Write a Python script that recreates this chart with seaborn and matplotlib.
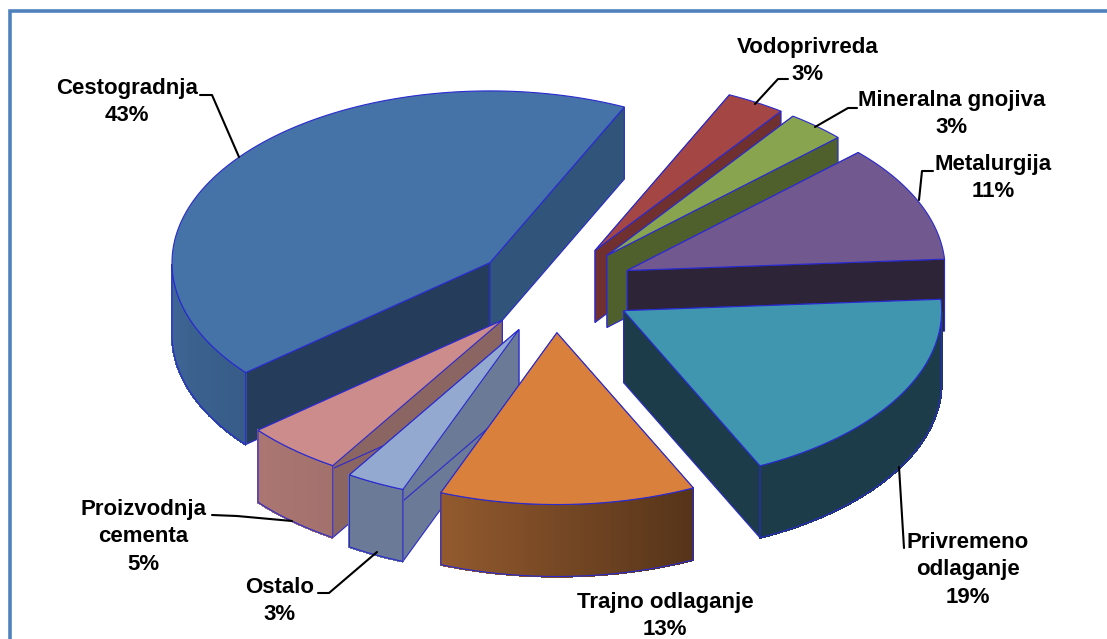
import numpy as np
import matplotlib
matplotlib.use('Agg')
import matplotlib.pyplot as plt
import seaborn as sns

# clockwise from the top right
categories = ['Vodoprivreda', 'Mineralna gnojiva', 'Metalurgija', 'Privremeno\nodlaganje',
              'Trajno odlaganje', 'Ostalo', 'Proizvodnja\ncementa', 'Cestogradnja']
shares = [3, 3, 11, 19, 13, 3, 5, 43]

top_colors = ['#A44644', '#89A44E', '#71588F', '#4096AE', '#D9803C', '#93A9CF', '#CC8C8B', '#4572A7']
# wall gradient left -> right, and the two cut faces (start side, end side)
wall_left = ['#70302F', '#50602D', '#2D2438', '#1B3C48', '#935A2E', '#6B7A96', '#AB7671', '#3F6796']
wall_right = ['#70302F', '#50602D', '#2D2438', '#1B3C48', '#553319', '#6B7A96', '#A3716D', '#375C88']
face_start = ['#70302F', '#50602D', '#2D2438', '#1B3C48', '#553319', '#6B7A96', '#8A6561', '#253D5A']
face_end = ['#70302F', '#50602D', '#2D2438', '#1B3C48', '#935A2E', '#6B7A96', '#8A6561', '#31547A']
explode = [87, 85, 81, 83, 83, 80, 77, 77]
# small corrections to where each slice ended up
shift_x = [0, 0, 2, 1, 3, 4, 2, 0]
shift_y = [3, 2, 0, 0, 0, 3, 1, 0]

label_xy = [(808, 61), (952, 114), (993, 178), (968, 570), (665, 616), (280, 601), (143, 537), (127, 102)]
leaders = [
    [(755, 104), (778, 79), (788, 79)],
    [(815, 127), (848, 108), (857, 108)],
    [(919, 200), (922, 171), (933, 171)],
    [(899, 467), (904, 548)],
    [],
    [(318, 593), (329, 593), (377, 552)],
    [(212, 515), (237, 516), (292, 521)],
    [(200, 95), (212, 95), (239, 157)],
]

CX, CY = 551, 288
RADIUS = 318
SQUASH = 0.54
DEPTH = 72
START_ANGLE = 65
EDGE = '#2A2AD0'

sns.set_theme(style='white')
plt.rcParams['font.family'] = ['Liberation Sans', 'DejaVu Sans']

fig, ax = plt.subplots(figsize=(11.07, 6.39), dpi=100)
ax.set_position([0, 0, 1, 1])
ax.set_xlim(0, 1107)
ax.set_ylim(639, 0)
ax.axis('off')

ax.plot([10, 10, 1120], [650, 11, 11], color='#4F81BD', lw=2.6, solid_joinstyle='miter', zorder=1)


def rim(ax0, ay0, ang):
    a = np.radians(ang)
    return ax0 + RADIUS * np.cos(a), ay0 - RADIUS * SQUASH * np.sin(a)


def draw_slice(i, a_start, a_end, z):
    # a_start > a_end, going clockwise
    mid = np.radians((a_start + a_end) / 2)
    x0 = CX + explode[i] * np.cos(mid) + shift_x[i]
    y0 = CY - explode[i] * SQUASH * np.sin(mid) + shift_y[i]

    # the two cut faces
    for ang, col in [(a_start, face_start[i]), (a_end, face_end[i])]:
        x1, y1 = rim(x0, y0, ang)
        ax.fill([x0, x1, x1, x0], [y0, y1, y1 + DEPTH, y0 + DEPTH],
                facecolor=col, edgecolor=EDGE, lw=0.8, zorder=z)

    # outer wall, only the part turned to the viewer
    angs = np.linspace(a_start, a_end, 80)
    angs = angs[np.sin(np.radians(angs)) < 0]
    if len(angs) > 1:
        xs, ys = rim(x0, y0, angs)
        left = np.array(matplotlib.colors.to_rgb(wall_left[i]))
        right = np.array(matplotlib.colors.to_rgb(wall_right[i]))
        for k in range(len(angs) - 1):
            t = (k + 0.5) / (len(angs) - 1)
            if xs[0] < xs[-1]:
                col = left + (right - left) * t
            else:
                col = right + (left - right) * t
            ax.fill([xs[k], xs[k + 1], xs[k + 1], xs[k]],
                    [ys[k], ys[k + 1], ys[k + 1] + DEPTH, ys[k] + DEPTH],
                    facecolor=col, edgecolor=col, lw=1.0, antialiased=False, zorder=z + 0.1)
        ax.plot(np.r_[xs, xs[::-1], xs[0]],
                np.r_[ys, ys[::-1] + DEPTH, ys[0]],
                color=EDGE, lw=0.8, zorder=z + 0.2)

    # top
    angs = np.linspace(a_start, a_end, 120)
    xs, ys = rim(x0, y0, angs)
    ax.fill(np.r_[x0, xs], np.r_[y0, ys], facecolor=top_colors[i], edgecolor=EDGE, lw=0.8,
            joinstyle='miter', zorder=z + 0.3)


# slice limits from the shares, back slices first
ends = START_ANGLE - np.cumsum(shares) * 3.6
starts = np.r_[START_ANGLE, ends[:-1]]
mids = (starts + ends) / 2
order = np.argsort(-np.sin(np.radians(mids)))
for z, i in enumerate(order):
    draw_slice(i, starts[i], ends[i], 2 + z)

for name, share, (tx, ty), path in zip(categories, shares, label_xy, leaders):
    ax.text(tx, ty, f'{name}\n{share}%', ha='center', va='center', fontsize=16,
            fontweight='bold', color='black', linespacing=1.38, zorder=20)
    if path:
        px, py = zip(*path)
        ax.plot(px, py, color='black', lw=1.5, zorder=19)

plt.savefig('out.png', dpi=100)
